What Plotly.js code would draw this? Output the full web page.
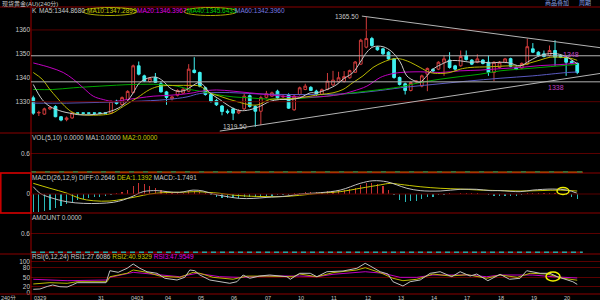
<!DOCTYPE html>
<html><head><meta charset="utf-8">
<script src="https://cdn.plot.ly/plotly-3.0.1.min.js"></script>
<style>html,body{margin:0;padding:0;background:#000;}#chart{width:600px;height:300px;}</style>
</head><body><div id="chart"></div><script>
// ---------- DATA ----------
const open  = [1331.6,1325.3,1324.8,1327.0,1328.0,1323.7,1322.5,1323.2,1325.3,1325.3,1325.3,1325.3,1325.3,1325.3,1325.2,1330.2,1328.8,1330.9,1333.8,1345.0,1340.8,1338.4,1340.2,1337.5,1334.1,1331.2,1332.7,1333.6,1334.4,1343.2,1342.2,1335.8,1333.0,1330.5,1328.2,1326.0,1327.0,1325.3,1327.0,1332.5,1328.0,1326.0,1331.8,1332.3,1334.4,1332.0,1333.0,1326.6,1333.0,1335.1,1336.0,1334.4,1333.0,1335.1,1337.0,1338.4,1338.5,1340.0,1342.3,1345.7,1352.8,1356.4,1352.8,1352.1,1350.7,1347.9,1340.1,1337.5,1334.7,1338.3,1336.5,1341.5,1343.5,1343.6,1346.5,1347.4,1345.0,1345.0,1349.3,1347.4,1346.5,1347.4,1346.5,1342.2,1344.3,1346.5,1348.0,1344.3,1344.0,1345.7,1352.1,1350.7,1350.0,1349.3,1351.4,1349.3,1348.6,1346.9,1346.0];
const high  = [1332.5,1326.2,1327.5,1328.0,1328.5,1324.0,1323.8,1325.8,1325.3,1325.3,1325.3,1325.3,1325.3,1325.3,1330.6,1330.8,1332.2,1334.8,1345.5,1346.8,1341.3,1340.3,1342.0,1338.5,1334.5,1332.5,1335.2,1335.8,1345.7,1348.6,1342.6,1336.3,1333.5,1331.2,1328.6,1326.8,1327.5,1326.8,1333.5,1333.0,1328.5,1332.5,1334.5,1334.2,1335.0,1333.0,1333.5,1333.0,1336.3,1337.5,1336.5,1335.0,1335.5,1342.0,1342.9,1342.5,1342.8,1343.4,1347.0,1356.3,1365.5,1357.1,1353.3,1352.5,1351.1,1348.3,1340.5,1338.0,1338.5,1339.0,1341.3,1344.3,1344.0,1346.9,1349.3,1350.7,1345.4,1351.4,1351.4,1347.8,1349.8,1347.8,1349.3,1346.9,1347.0,1348.3,1348.4,1344.7,1346.4,1356.4,1354.5,1351.1,1351.4,1353.5,1355.7,1349.7,1349.0,1347.3,1346.4];
const low   = [1324.5,1324.0,1324.5,1326.5,1323.5,1321.8,1321.8,1322.8,1325.2,1325.2,1325.2,1325.2,1325.2,1325.2,1324.8,1328.8,1328.5,1330.5,1333.5,1341.0,1338.2,1338.0,1337.8,1333.8,1328.7,1330.5,1332.2,1333.2,1334.0,1341.8,1336.0,1332.5,1329.6,1328.2,1324.3,1324.8,1322.3,1324.8,1326.5,1327.5,1319.5,1320.2,1331.3,1332.0,1331.2,1331.5,1327.0,1326.2,1332.5,1334.8,1334.5,1332.4,1332.7,1334.8,1336.6,1338.0,1338.0,1339.6,1342.0,1345.3,1352.3,1353.0,1351.3,1349.6,1347.5,1339.6,1336.8,1333.0,1334.3,1337.8,1336.0,1334.4,1342.3,1343.2,1340.8,1343.8,1342.9,1344.6,1347.2,1345.3,1346.1,1345.6,1340.8,1338.6,1343.9,1346.1,1344.4,1343.2,1343.6,1345.3,1350.3,1348.9,1348.5,1348.9,1345.0,1348.2,1340.8,1345.6,1341.5];
const close = [1325.2,1325.5,1327.0,1327.6,1323.7,1322.3,1323.2,1325.3,1325.2,1325.2,1325.2,1325.2,1325.2,1325.2,1330.1,1329.2,1331.7,1334.3,1345.0,1341.5,1338.6,1339.8,1338.1,1334.1,1331.8,1332.0,1334.7,1335.2,1343.6,1342.2,1336.5,1333.0,1330.1,1328.7,1325.9,1325.6,1325.2,1326.2,1332.3,1328.0,1326.0,1331.7,1333.3,1333.7,1331.6,1332.2,1327.3,1332.3,1335.8,1336.5,1334.7,1333.0,1335.0,1338.6,1339.0,1340.0,1340.5,1343.0,1346.6,1355.7,1356.4,1353.5,1351.7,1350.0,1347.9,1340.1,1337.2,1334.7,1338.0,1338.6,1340.8,1343.9,1342.8,1346.5,1347.9,1344.3,1343.6,1348.9,1347.6,1345.7,1347.9,1346.0,1342.2,1346.5,1346.5,1347.9,1344.8,1343.6,1346.0,1353.0,1350.7,1349.3,1348.9,1351.4,1348.6,1348.6,1346.5,1346.0,1342.2];

// moving-average lines (candle index, price)
const ma5X  = [0,1.6,3,5.2,6.6,8.4,12,13.8,15.3,16.9,18,19.2,21,22.3,23.4,24.6,25.9,27.3,28.6,30,31.8,33.6,35.4,37.2,39,40.8,42.6,44.4,46.3,48,49.9,51,52.9,54.7,55.8,57.6,58.9,60.1,61.2,63,64.6,66.1,67.3,68.8,69.7,70.9,72,73.6,75.1,76.9,78.7,80.5,82.3,84.1,85.8,87.7,89.5,91.3,92.6,94.4,96.2,98];
const ma5Y  = [1337.2,1330.9,1328,1325.9,1325.2,1324.5,1324.9,1325.9,1327.3,1330.1,1333.7,1338,1340.1,1340.1,1338.6,1335.8,1334.4,1334.7,1336.5,1338,1333.7,1330.9,1328,1326.3,1326.6,1328,1330.1,1330.9,1330.9,1331.6,1333.7,1333.7,1335.1,1337.2,1339.4,1342.2,1346.5,1350.7,1352.9,1353,1350.9,1346.6,1340.8,1338.6,1338.2,1340.8,1343.6,1345.7,1347.1,1347.1,1346.5,1346.7,1346.2,1346.5,1346.2,1345,1347.2,1349.3,1350,1350,1348.6,1345.8];
const ma10X = [0,1.6,3,4.3,5.7,7.2,9,12.6,14.2,16.2,18.7,21,22.8,25.9,28.2,30,31.8,33.6,35.4,37.2,39,40.5,42.6,45,48,49.9,51.7,54,55.8,57.6,59.4,61.2,63,64.8,66.1,67.9,69.7,71.5,73.3,75.1,76.9,78.7,82.3,85.8,87.7,89.5,91.3,93.1,94.9,96.7,98];
const ma10Y = [1342.2,1339.4,1335.1,1331.6,1328,1325.4,1324.5,1324.5,1325.2,1328,1331.6,1335.1,1336.5,1336.8,1336.8,1336.5,1333.7,1332.3,1330.9,1329.7,1328.7,1328.7,1330.9,1331.1,1331.6,1332.3,1333,1333.7,1335.1,1338,1340.8,1344.3,1346.5,1347.9,1347.9,1346.5,1344.3,1342.2,1341.8,1342.2,1343.6,1344.3,1344.6,1345,1345,1346.2,1347.4,1348.6,1348.6,1348.2,1347.3];
const ma20X = [0,3,5.4,7.2,9,10.8,12.6,14.4,16.9,19.2,21.6,24.1,26.4,28.8,30,33,36,39,42.1,45,48,51.1,52.9,55.3,57.6,60.1,62.5,64.3,66.1,69.7,73.3,76.9,80.5,84.1,87.7,91.3,94.9,98];
const ma20Y = [1346.2,1344.3,1342.2,1339.4,1335.8,1332.3,1330.9,1330.1,1330.9,1331.6,1332.3,1332.6,1333,1333.7,1334.3,1334.9,1334.4,1333.7,1333,1332.3,1332,1332,1332.3,1333,1334.4,1336.5,1340.1,1341.5,1342.2,1342.5,1342.2,1342.9,1343.2,1343.8,1344.3,1345.1,1345.5,1346.2];
const ma40X = [0,3.5,7.2,12,18,22.8,25.9,28.2,30,33,36,39,42.1,45.7,49.3,52.9,56.5,60.1,63.7,66.1,69.7,73.3,76.9,80.5,84.1,87.7,91.3,94.9,98];
const ma40Y = [1335.1,1335.1,1335.8,1336.5,1337.2,1337.2,1336.5,1335.1,1334.4,1333,1332,1331.6,1331.1,1331.1,1331.6,1332.3,1333.4,1334.4,1335.4,1336.2,1338,1339.4,1340.5,1341.5,1342.9,1343.6,1344.3,1345,1345.6];
const ma60X = [0,6,12,18,24.1,27.7,30,35.4,40.8,46.3,51.7,57,62.5,66.1,72,78.2,84.1,90,96.2,98];
const ma60Y = [1329.4,1329.4,1329.7,1330.1,1330.9,1332,1333.4,1333.8,1333.2,1333,1333,1333.4,1334.7,1335.8,1337.2,1338.6,1339.8,1340.8,1342.2,1342.4];

// MACD panel
const macdBars = [-6.8,-6.9,-6.4,-6.0,-5.4,-4.6,-3.8,-3.0,-2.4,-2.0,-1.7,-1.3,-1.0,-0.6,-0.3,0.3,0.8,1.6,3.0,4.2,4.0,3.2,2.4,1.4,0.6,0.3,0.3,0.5,1.0,1.2,0.6,0.2,-0.5,-1.0,-1.4,-1.6,-1.7,-1.6,-1.3,-1.2,-1.3,-1.0,-0.7,-0.6,-0.5,-0.3,-0.4,0.2,0.4,0.6,0.7,0.6,0.8,1.0,1.2,1.4,1.6,1.9,2.5,3.5,4.2,4.3,3.8,3.0,1.6,-0.3,-2.2,-3.0,-2.8,-2.5,-1.8,-1.3,-1.0,-0.5,-0.2,0.2,0.0,0.2,0.3,0.3,0.2,0.0,-0.3,-0.6,-0.7,-0.6,-0.8,-0.7,-0.4,0.3,0.5,0.4,0.3,0.5,0.4,0.1,-0.5,-1.0,-1.75];
const deaX  = [0,3,6.1,8.4,10.8,13.8,16.2,18.7,21,23.4,26.4,29.5,31.3,33.6,36,38.5,42.1,45,48,51.7,55.3,58.9,62.5,64.3,66.1,69.7,73.3,76.9,80.5,84.1,87.7,91.3,94.9,98];
const deaY  = [4.1,2.2,0.3,-1.7,-2.6,-2.7,-2,-1,0,0.5,0.65,0.9,0.65,0.27,-0.4,-0.8,-1,-1,-0.5,0.3,0.9,2.2,3.5,4.1,3.7,2.8,2.2,1.9,1.5,1.3,1.15,1.3,1.5,1.14];
const diffX = [0,1.2,3,6.1,9,12,14.4,16.2,18,19.8,22.3,24.1,26.4,28.8,30.6,32.4,34.9,37.2,39.6,42.1,45.7,48,51.7,55.3,58.9,61.2,63.7,65.5,67.3,69.7,73.3,76.9,79.9,82.3,84.1,87.7,90,93.6,96.2,98];
const diffY = [2.8,0.3,-1.3,-3,-3.6,-3.6,-3.2,-2.3,-0.8,0.9,1.3,0.9,0.65,1.5,1.15,0,-1,-1.7,-1.7,-1.3,-0.8,0,0.5,1.5,4.1,5.1,4.7,3.5,2.2,1.3,1.15,1.8,1.8,1.3,1.3,0.9,1.5,1.9,1.5,0.26];

// RSI panel
const rsi1X = [0,1.2,2.5,3.5,4.8,6.1,7,7.9,13.1,13.8,15.3,16.9,18,19.2,20.5,22.3,23.7,25.9,27.3,28.2,29.1,30,31.8,33.6,35.4,36.7,37.8,39,40.8,42.6,44.4,45.7,46.3,48,49.9,51.1,52.9,55.8,58.3,59.8,60.7,62.5,63.9,64.8,66.6,67.9,69.7,71.5,73.3,75.4,76.9,78.7,79.9,81.9,84.1,85.8,87.7,88.9,91.3,93.1,94.4,96.2,97.2,98];
const rsi1Y = [11.8,12.8,20.8,25.6,20.1,19.2,25.6,32.9,32.9,71.2,66.1,78.9,92.7,78.9,68,62.9,47,41.5,50.2,73.5,71.2,57.5,41.5,36.1,31,36.1,57.5,47,54.3,57.5,54.3,52.1,43.8,62.9,62.9,52.1,68,70.3,78.9,94.9,86.3,68,60.7,36.1,22.4,36.1,41.5,62.9,68,52.1,68,54.3,60.7,39.3,59.7,43.8,47,71.2,62.9,62.9,52.1,41.5,36.1,27.6];
const rsi2X = [0,3,6.1,7.9,13.3,13.8,16.9,18,20.5,22.8,26.4,28.8,30,32.4,36,38.5,42.1,46.8,48,51.1,54,58.3,59.8,62.5,64.8,66.6,69.1,72,75.1,78.2,81.7,84.1,87.2,89.5,92.6,95.4,98];
const rsi2Y = [28.8,33,31,36,36,52,63,73.5,66,54,50,66,63,50,44,54,54,52,60.7,52,65,73.5,80.8,65,47,39.3,43.8,60.7,54.3,58.5,47,57.5,50,63,60.7,47,40.9];
const rsi3X = [0,6.1,13.3,13.8,18,22.8,26.4,29.5,33.6,37.2,42.1,48,51.1,54,59.8,63,66.1,69.1,72,78.2,81.7,84.1,90,93.6,98];
const rsi3Y = [43.8,39.3,41.5,50,66,57.5,52,63,52,50,54.3,54.3,52,59.7,68,63,50,50,57.5,57.5,52,57.5,57.5,52,48];

// day labels and the candle index where each day starts
const dayLabels = ['0329','31','0403','04','05','06','07','10','11','12','13','14','17','18','19','20'];
const dayStart  = [0,12,18,24,30,36,42,48,54,60,66,72,78,84,90,96];

// drawn studies: trend lines [i0,p0,i1,p1] and horizontal price lines
const upperTrend = [59.2,1365.8,102.1,1352.6];
const lowerTrend = [33.6,1317.7,102.1,1341.8];
const hLines = [1349.2,1338.3];
const hLineLabels = ['1348','1338'];

// ---------- CHART ----------
const FONT = 'Liberation Sans, Arial, Noto Sans CJK SC, sans-serif';
const X = px => px/600, Y = py => 1 - py/300;
const idx = open.map((_, i) => i);
const XR = [-0.41, 102.1];

const traces = [];
traces.push({type:'candlestick', x:idx, open, high, low, close, xaxis:'x', yaxis:'y',
  increasing:{line:{color:'#d23c3c', width:1}, fillcolor:'#000000'},
  decreasing:{line:{color:'#3ff0f0', width:1}, fillcolor:'#3ff0f0'},
  whiskerwidth:0, hoverinfo:'skip'});
const maLine = (x, y, color) => ({type:'scatter', mode:'lines', x, y, xaxis:'x', yaxis:'y',
  line:{color, width:1, shape:'spline', smoothing:1}, hoverinfo:'skip'});
traces.push(maLine(ma60X, ma60Y, '#5a5ac0'));
traces.push(maLine(ma40X, ma40Y, '#00a800'));
traces.push(maLine(ma20X, ma20Y, '#c000c0'));
traces.push(maLine(ma10X, ma10Y, '#b8b800'));
traces.push(maLine(ma5X, ma5Y, '#c8c8c8'));

// MACD
traces.push({type:'bar', x:idx, y:macdBars, xaxis:'x', yaxis:'y3', width:0.22,
  marker:{color:macdBars.map(v => v >= 0 ? '#c83232' : '#2ab8b8'), line:{width:0}}, hoverinfo:'skip'});
traces.push({type:'scatter', mode:'lines', x:deaX, y:deaY, xaxis:'x', yaxis:'y3',
  line:{color:'#c8c800', width:1, shape:'spline'}, hoverinfo:'skip'});
traces.push({type:'scatter', mode:'lines', x:diffX, y:diffY, xaxis:'x', yaxis:'y3',
  line:{color:'#c0c0c0', width:1, shape:'spline'}, hoverinfo:'skip'});

// VOL / AMOUNT zero lines
const lastX = idx[idx.length-1] + 1;
traces.push({type:'scatter', mode:'lines', x:[XR[0], lastX], y:[0,0], xaxis:'x', yaxis:'y2', line:{color:'#c86400', width:1.5}, hoverinfo:'skip'});
traces.push({type:'scatter', mode:'lines', x:[XR[0], lastX], y:[0,0], xaxis:'x', yaxis:'y2', line:{color:'#10b060', width:1.5, dash:'5px,9px'}, hoverinfo:'skip'});
traces.push({type:'scatter', mode:'lines', x:[XR[0], lastX], y:[0,0], xaxis:'x', yaxis:'y4', line:{color:'#800000', width:1.5}, hoverinfo:'skip'});
traces.push({type:'scatter', mode:'lines', x:[XR[0], lastX], y:[0,0], xaxis:'x', yaxis:'y4', line:{color:'#1aa8a8', width:1.5, dash:'5px,4px'}, hoverinfo:'skip'});

// RSI
traces.push({type:'scatter', mode:'lines', x:rsi3X, y:rsi3Y, xaxis:'x', yaxis:'y5', line:{color:'#c000c0', width:1}, hoverinfo:'skip'});
traces.push({type:'scatter', mode:'lines', x:rsi2X, y:rsi2Y, xaxis:'x', yaxis:'y5', line:{color:'#b8b800', width:1}, hoverinfo:'skip'});
traces.push({type:'scatter', mode:'lines', x:rsi1X, y:rsi1Y, xaxis:'x', yaxis:'y5', line:{color:'#c0c0c0', width:1}, hoverinfo:'skip'});

const axisBase = {anchor:'x', showgrid:false, gridcolor:'#5a0000', gridwidth:1, zeroline:false, showline:false,
  ticks:'', tickfont:{size:6.5, color:'#c8c8c8', family:FONT}, fixedrange:true};

const shapes = [];
const sep = '#8a0000', grid = '#5a0000';
[7,133,173,213,254,294].forEach(py => shapes.push({type:'line', xref:'paper', yref:'paper', x0:0, x1:1, y0:Y(py), y1:Y(py), line:{color:sep, width:1}}));
shapes.push({type:'line', xref:'paper', yref:'paper', x0:X(31), x1:X(31), y0:0, y1:1, line:{color:'#a00000', width:1}});
shapes.push({type:'rect', xref:'paper', yref:'paper', x0:X(0.8), x1:X(31), y0:Y(213), y1:Y(173), line:{color:'#d00000', width:1.5}});
[1330,1360].forEach(p => shapes.push({type:'line', xref:'x', yref:'y', x0:XR[0], x1:XR[1], y0:p, y1:p, line:{color:grid, width:1}}));
shapes.push({type:'line', xref:'x', yref:'y3', x0:XR[0], x1:XR[1], y0:0, y1:0, line:{color:grid, width:1}});
hLines.forEach(p => shapes.push({type:'line', xref:'x', yref:'y', x0:XR[0], x1:XR[1], y0:p, y1:p, line:{color:'#b4b4b4', width:1}}));
[upperTrend, lowerTrend].forEach(t => shapes.push({type:'line', xref:'x', yref:'y', x0:t[0], y0:t[1], x1:t[2], y1:t[3], line:{color:'#b4b4b4', width:1}}));
// highlight ellipses
const ell = (x0,x1,y0,y1,c,w) => shapes.push({type:'circle', xref:'paper', yref:'paper', x0:X(x0), x1:X(x1), y0:Y(y1), y1:Y(y0), line:{color:c, width:w}});
ell(83,137,7.5,15.5,'#a8a800',1);
ell(184,237,7.5,15.5,'#a8a800',1);
ell(557,569,187.5,194.5,'#f0f000',1.5);
ell(546,560,272,281,'#f0f000',1.5);

const annotations = [];
const txt = (xpx, ypx, text, color, size) => annotations.push({xref:'paper', yref:'paper', x:X(xpx), y:Y(ypx),
  xanchor:'left', yanchor:'middle', showarrow:false, text, font:{family:FONT, size:size||6.5, color:color||'#c8c8c8'}, borderpad:0});
txt(0.5, 3.5, '现货黄金(AU)(240分)', '#c8c8c8', 6);
txt(544, 3, '商品叠加', '#8aa0e6', 6);
txt(578, 3, '周期', '#8aa0e6', 6);
txt(31, 11, 'K', '#c8c8c8');
txt(38, 11, 'MA5:1344.8680', '#c8c8c8');
txt(86, 11, 'MA10:1347.2899', '#c8c800');
txt(136, 11, 'MA20:1346.3967', '#e000e0');
txt(186, 11, 'MA40:1345.6433', '#00d000');
txt(234, 11, 'MA60:1342.3960', '#7878e0');
txt(31, 137.7, 'VOL(5,10) 0.0000 MA1:0.0000 <span style="color:#c8c800">MA2:0.0000</span>');
txt(31, 177.7, 'MACD(26,12,9) DIFF:0.2646 <span style="color:#c8c800">DEA:1.1392</span> MACD:-1.7491');
txt(31, 217.7, 'AMOUNT 0.0000');
txt(31, 257.3, 'RSI(6,12,24) RSI1:27.6086 <span style="color:#c8c800">RSI2:40.9329</span> <span style="color:#e000e0">RSI3:47.9549</span>');
txt(0, 297.5, '240分', '#c8c8c8', 5.5);

// price extremes
const hiIdx = high.indexOf(Math.max(...high)), loIdx = low.indexOf(Math.min(...low));
annotations.push({xref:'x', yref:'y', x:hiIdx, y:high[hiIdx], xanchor:'right', yanchor:'middle', xshift:-6, showarrow:false,
  text:high[hiIdx].toFixed(2), font:{family:FONT, size:6.5, color:'#c8c8c8'}, borderpad:0});
annotations.push({xref:'x', yref:'y', x:loIdx, y:low[loIdx], xanchor:'right', yanchor:'middle', xshift:-7, showarrow:false,
  text:low[loIdx].toFixed(2), font:{family:FONT, size:6.5, color:'#c8c8c8'}, borderpad:0});
// labels of horizontal lines
annotations.push({xref:'x', yref:'y', x:95.3, y:hLines[0], xanchor:'left', yanchor:'bottom', showarrow:false, yshift:-3,
  text:hLineLabels[0], font:{family:FONT, size:7, color:'#c040c0'}, borderpad:0});
annotations.push({xref:'x', yref:'y', x:92.6, y:hLines[1], xanchor:'left', yanchor:'top', showarrow:false, yshift:-1,
  text:hLineLabels[1], font:{family:FONT, size:7, color:'#c040c0'}, borderpad:0});
// date labels
dayLabels.forEach((d, k) => annotations.push({xref:'x', yref:'paper', x: dayStart[k] === 0 ? 0 : dayStart[k] - 0.5, y:Y(297.5),
  xanchor:'left', yanchor:'middle', showarrow:false, text:d, font:{family:FONT, size:5.5, color:'#c8c8c8'}, borderpad:0}));

const layout = {
  width:600, height:300, margin:{l:0, r:0, t:0, b:0, pad:0}, paper_bgcolor:'#000', plot_bgcolor:'#000',
  showlegend:false, font:{family:FONT, size:6.5, color:'#c8c8c8'}, boxgap:0.3, bargap:0,
  xaxis:{domain:[X(31),1], range:XR, visible:false, rangeslider:{visible:false}, fixedrange:true},
  yaxis:Object.assign({}, axisBase, {domain:[Y(133),Y(7)], range:[1316.9,1369.6], tickvals:[1330,1340,1350,1360]}),
  yaxis2:Object.assign({}, axisBase, {domain:[Y(173),Y(133)], range:[-0.022,1.24], tickvals:[0.6], ticktext:['0.6'], showgrid:true}),
  yaxis3:Object.assign({}, axisBase, {domain:[Y(213),Y(173)], range:[-7.31,8.08], tickvals:[0], ticktext:['0']}),
  yaxis4:Object.assign({}, axisBase, {domain:[Y(254),Y(213)], range:[-0.054,1.24], tickvals:[0.6], ticktext:['0.6'], showgrid:true}),
  yaxis5:Object.assign({}, axisBase, {domain:[Y(294),Y(254)], range:[-3.2,124.6], tickvals:[0,20,50,80,100], showgrid:true}),
  shapes, annotations
};
Plotly.newPlot('chart', traces, layout, {staticPlot:true, displayModeBar:false});
</script></body></html>
